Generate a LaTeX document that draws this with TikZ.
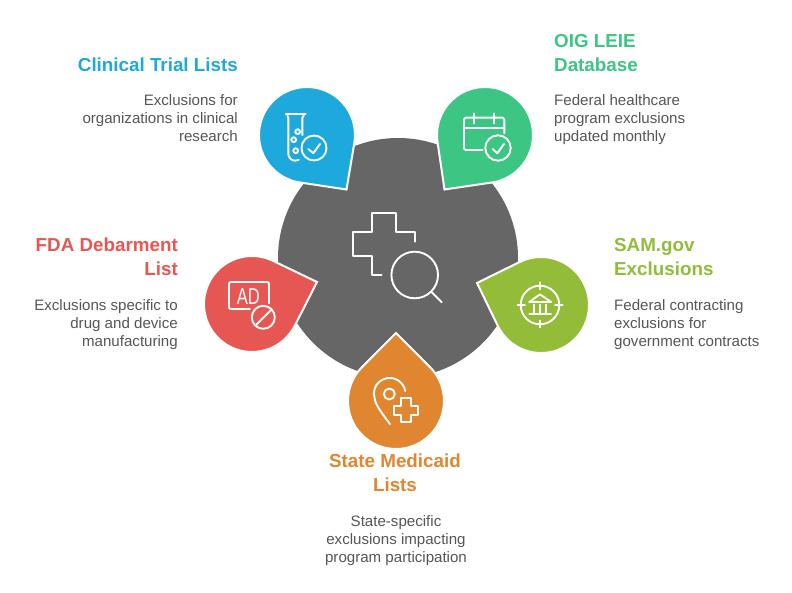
\documentclass[tikz,border=0pt]{standalone}
\usepackage{fontspec}
\setmainfont{Liberation Sans}
\usetikzlibrary{calc}
\definecolor{hubgrey}{HTML}{666666}
\definecolor{bodygrey}{HTML}{555555}
\definecolor{trialblue}{HTML}{1EA9DC}
\definecolor{leiegreen}{HTML}{3CC583}
\definecolor{samgreen}{HTML}{93BC39}
\definecolor{fdared}{HTML}{E65753}
\definecolor{stateorange}{HTML}{E08631}
\tikzset{
  hub/.style={circle,fill=hubgrey,minimum size=240pt,inner sep=0pt,outer sep=0pt},
  badge/.style={circle,minimum size=96pt,inner sep=0pt,outer sep=0pt},
  icon/.style={draw=white,line width=1.9pt,line join=round,line cap=round},
  headtxt/.style={inner sep=0pt,font=\fontsize{18.8}{24}\selectfont\bfseries},
  bodytxt/.style={inner sep=0pt,text=bodygrey,font=\fontsize{15.1}{18}\selectfont}
}
\newcommand{\dropbadge}[4]{
  \coordinate (#1 tip) at #3;
  \node[badge] (#1) at #2 {};
  \draw[white,line width=2pt,line join=miter,fill=#4]
    let \p1=($(#1 tip)-(#1)$), \n1={atan2(\y1,\x1)}, \n2={veclen(\x1,\y1)}, \n3={acos(48/\n2)} in
    (#1 tip) -- ($(#1)+(\n1+\n3:48pt)$) arc[start angle=\n1+\n3,delta angle=360-2*\n3,radius=48pt] -- cycle;
}
\begin{document}
\begin{tikzpicture}[x=1pt,y=-1pt]
  \useasboundingbox (0,0) rectangle (792,593);
  \node[hub] (hubdisc) at (398,258) {};
  % the five drops
  \dropbadge{trial}{(307,135)}{(346.5,189.5)}{trialblue}
  \dropbadge{leie}{(485,135)}{(444.5,189.5)}{leiegreen}
  \dropbadge{fda}{(252,304)}{(317,282)}{fdared}
  \dropbadge{sam}{(541,305)}{(477,283)}{samgreen}
  \dropbadge{state}{(396,401)}{(396,333)}{stateorange}
  % centre icon
  \draw[icon] (415,241.7) -- (415,232.3) -- (395.7,232.3) -- (395.7,213.3) -- (372.3,213.3)
    -- (372.3,232.3) -- (352.7,232.3) -- (352.7,255.7) -- (372.3,255.7) -- (372.3,275.3) -- (381.7,275.3);
  \draw[icon] (414.7,275) circle (23.3pt);
  \draw[icon] (431.7,292.3) -- (441.7,302.3);
  % test tube
  \draw[icon] (285.7,114) -- (305.7,114) (287,114) -- (288.3,118) (304.4,114) -- (302.3,118);
  \draw[icon] (302.3,135) -- (302.3,118) (288.3,118) -- (288.3,153.7) arc[start angle=180,end angle=60,radius=7pt,y radius=-7pt];
  \draw[icon] (297.7,131.7) circle (2.4pt) (293.7,139.7) circle (2.4pt) (295.7,150.7) circle (2.4pt);
  \draw[icon] (314,148) circle (12.5pt);
  \draw[icon] (308.3,149) -- (313.3,153.3) -- (320,144);
  % calendar
  \draw[icon,rounded corners=1.5pt] (482.7,150) -- (464,150) -- (464,117.7) -- (504.3,117.7) -- (504.3,133.3);
  \draw[icon] (464,128.3) -- (504.3,128.3);
  \draw[icon] (474,113.3) -- (474,123.3) (494.3,113.3) -- (494.3,123.3);
  \draw[icon] (498,148) circle (12.7pt);
  \draw[icon] (492.7,149) -- (497.3,153.3) -- (504,144);
  % ad sign
  \draw[icon,rounded corners=2pt] (250,309) -- (229,309) -- (229,282) -- (269,282) -- (269,303.3);
  \node[inner sep=0pt,text=white,xscale=.72,font=\fontsize{23}{23}\selectfont] (adsign) at (248.3,296.7) {AD};
  \draw[icon] (263.3,317.3) circle (11.5pt);
  \draw[icon] (256,325) -- (271,310);
  % bank in sights
  \draw[icon] (540,305) circle (19.3pt);
  \draw[icon] (540,282.3) -- (540,289.3) (540,320.7) -- (540,327.3) (517.7,305) -- (525,305) (555,305) -- (562.7,305);
  \draw[icon] (529.3,302) -- (540,294.3) -- (551,302) -- cycle;
  \draw[icon] (534.3,304.5) -- (534.3,313) (540,304.5) -- (540,313) (546,304.5) -- (546,313) (529.3,314) -- (551,314);
  % pin and cross
  \draw[icon] (405.2,391) arc[start angle=-10,end angle=-200,radius=15.8pt,y radius=-15.8pt]
    .. controls (375,404) and (383,415) .. (390,424);
  \draw[icon] (389.3,394) circle (5.5pt);
  \draw[icon] (401,406) -- (401,398.3) -- (411,398.3) -- (411,406) -- (418.3,406) -- (418.3,415)
    -- (411,415) -- (411,422.3) -- (401,422.3) -- (401,415) -- (393.7,415) -- (393.7,406) -- cycle;
  % labels
  \node[headtxt,text=trialblue,anchor=east,align=right] (trialhead) at (238,65) {Clinical Trial Lists};
  \node[bodytxt,anchor=east,align=right] (trialbody) at (238,118) {Exclusions for\\organizations in clinical\\research};
  \node[headtxt,text=leiegreen,anchor=west,align=left] (leiehead) at (554,53) {OIG LEIE\\Database};
  \node[bodytxt,anchor=west,align=left] (leiebody) at (554,120) {Federal healthcare\\program exclusions\\updated monthly};
  \node[headtxt,text=samgreen,anchor=west,align=left] (samhead) at (614,257) {SAM.gov\\Exclusions};
  \node[bodytxt,anchor=west,align=left] (sambody) at (614,325) {Federal contracting\\exclusions for\\government contracts};
  \node[headtxt,text=fdared,anchor=east,align=right] (fdahead) at (178,257) {FDA Debarment\\List};
  \node[bodytxt,anchor=east,align=right] (fdabody) at (178,325) {Exclusions specific to\\drug and device\\manufacturing};
  \node[headtxt,text=stateorange,align=center] (statehead) at (395,473) {State Medicaid\\Lists};
  \node[bodytxt,align=center] (statebody) at (396,541) {State-specific\\exclusions impacting\\program participation};
\end{tikzpicture}
\end{document}
